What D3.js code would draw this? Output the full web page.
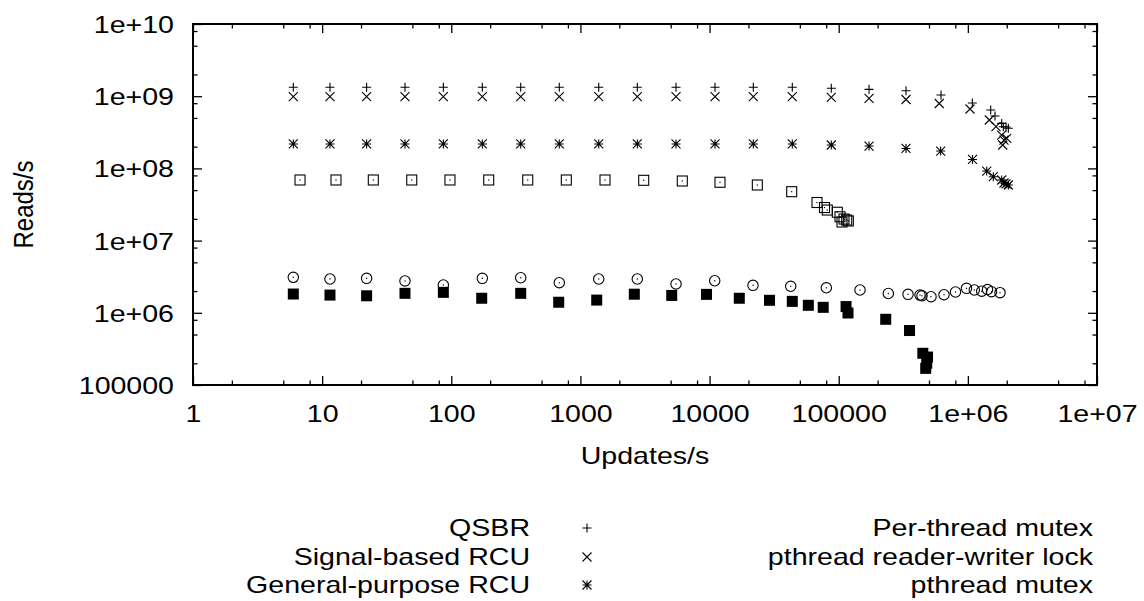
<!DOCTYPE html>
<html>
<head>
<meta charset="utf-8">
<script src="https://cdn.jsdelivr.net/npm/d3@7"></script>
<style>
  html, body { margin: 0; padding: 0; background: #fff; }
  svg { display: block; }
  text { font-family: "Liberation Sans", Arial, Helvetica, sans-serif; font-size: 24px; fill: #000; }
</style>
</head>
<body>
<svg id="chart" width="1144" height="601"></svg>
<script>
// ---------- data ----------
const xTickValues = [1, 10, 100, 1e3, 1e4, 1e5, 1e6, 1e7];
const xTickLabels = ["1", "10", "100", "1000", "10000", "100000", "1e+06", "1e+07"];
const yTickValues = [1e5, 1e6, 1e7, 1e8, 1e9, 1e10];
const yTickLabels = ["100000", "1e+06", "1e+07", "1e+08", "1e+09", "1e+10"];
const minorFactors = [2, 5, 8];

const seriesNames = ["QSBR", "Signal-based RCU", "General-purpose RCU",
                     "Per-thread mutex", "pthread reader-writer lock", "pthread mutex"];

const qsbrUpdates = [5.98, 11.5, 22.1, 43.8, 86.8, 173.9, 344.8, 686, 1386, 2757, 5498, 11020, 21810, 43710,
                     87600, 171700, 331900, 619700, 1083000, 1503000, 1623000, 1829000, 1882000, 1975000, 2058000];
const qsbrReads = [1.33e9, 1.33e9, 1.33e9, 1.33e9, 1.33e9, 1.33e9, 1.33e9, 1.33e9, 1.33e9, 1.33e9, 1.33e9, 1.33e9, 1.33e9, 1.33e9,
                   1.29e9, 1.245e9, 1.19e9, 1.04e9, 8.05e8, 6.44e8, 5.32e8, 4.2e8, 3.78e8, 3.75e8, 3.59e8];

const signalUpdates = [5.98, 11.5, 22.1, 43.8, 86.8, 173.9, 344.8, 686, 1386, 2757, 5498, 11020, 21810, 43710,
                       87600, 171700, 331900, 600500, 1039000, 1466000, 1652000, 1829000, 1905000, 1862000, 2000000];
const signalReads = [9.84e8, 9.84e8, 9.84e8, 9.84e8, 9.84e8, 9.84e8, 9.84e8, 9.84e8, 9.84e8, 9.84e8, 9.84e8, 9.84e8, 9.84e8, 9.84e8,
                     9.66e8, 9.35e8, 9.0e8, 7.92e8, 6.65e8, 4.68e8, 3.78e8, 2.9e8, 2.47e8, 2.11e8, 2.61e8];

const gpUpdates = [5.98, 11.5, 22.1, 43.8, 86.8, 173.9, 344.8, 686, 1386, 2757, 5498, 11020, 21810, 43710,
                   87600, 171700, 331900, 616000, 1086000, 1400000, 1574000, 1829000, 1905000, 2058000, 1975000];
const gpReads = [2.18e8, 2.18e8, 2.18e8, 2.18e8, 2.18e8, 2.18e8, 2.18e8, 2.18e8, 2.18e8, 2.18e8, 2.18e8, 2.18e8, 2.18e8, 2.18e8,
                 2.11e8, 2.04e8, 1.89e8, 1.74e8, 1.33e8, 9.2e7, 7.67e7, 6.91e7, 6.28e7, 5.89e7, 6.1e7];

const ptmUpdates = [6.74, 12.8, 24.9, 49.4, 97.7, 194.9, 390.7, 777.5, 1550, 3090, 6150, 12040, 23430, 43250,
                    67920, 77620, 81600, 97520, 102300, 106000, 109900, 115300, 118700];
const ptmReads = [6.91e7, 6.91e7, 6.91e7, 6.91e7, 6.91e7, 6.91e7, 6.91e7, 6.91e7, 6.91e7, 6.84e7, 6.69e7, 6.42e7, 5.89e7, 4.76e7,
                  3.37e7, 2.87e7, 2.65e7, 2.47e7, 2.14e7, 1.81e7, 1.99e7, 1.93e7, 1.87e7];

const rwUpdates = [5.98, 11.5, 22.1, 43.8, 86.8, 173.9, 344.8, 686, 1386, 2757, 5498, 10960, 21690, 42500,
                   80170, 146200, 242100, 344100, 426100, 441600, 518400, 653700, 802400, 976300, 1122000, 1280000, 1420000, 1525000, 1774000];
const rwReads = [3.10e6, 2.94e6, 3.00e6, 2.76e6, 2.43e6, 3.00e6, 3.06e6, 2.61e6, 2.94e6, 2.94e6, 2.51e6, 2.78e6, 2.40e6, 2.33e6,
                 2.22e6, 2.07e6, 1.85e6, 1.80e6, 1.76e6, 1.72e6, 1.67e6, 1.78e6, 1.94e6, 2.18e6, 2.07e6, 1.99e6, 2.10e6, 1.96e6, 1.90e6];

const mutexUpdates = [5.98, 11.5, 22.1, 43.8, 86.8, 172, 344.8, 678.8, 1337, 2614, 5092, 9470, 16990, 29120, 43710,
                      58170, 75850, 114000, 118000, 231200, 353400, 448000, 487100, 480200, 471700];
const mutexReads = [1.82e6, 1.76e6, 1.72e6, 1.86e6, 1.92e6, 1.59e6, 1.86e6, 1.40e6, 1.50e6, 1.81e6, 1.74e6, 1.80e6, 1.59e6, 1.49e6, 1.44e6,
                    1.27e6, 1.19e6, 1.22e6, 9.94e5, 8.13e5, 5.68e5, 2.75e5, 2.44e5, 2.0e5, 1.70e5];

// ---------- layout ----------
const W = 1144, H = 601;
const L = 193, R = 1097, T = 24, B = 385;
const SX = 1.19; // horizontal text stretch of the reference

const svg = d3.select("#chart");
const x = d3.scaleLog().domain([1, 1e7]).range([L, R]);
const y = d3.scaleLog().domain([1e5, 1e10]).range([B, T]);

const minorX = [], minorY = [];
for (let e = 0; e < 7; e++) minorFactors.forEach(f => minorX.push(f * Math.pow(10, e)));
for (let e = 5; e < 10; e++) minorFactors.forEach(f => minorY.push(f * Math.pow(10, e)));

function styleAxis(g) {
  g.select(".domain").remove();
  g.selectAll(".tick line").attr("stroke", "#000").attr("stroke-width", 1.3);
}

// major + minor ticks on all four sides (inward)
svg.append("g").attr("transform", `translate(0,${B})`)
  .call(d3.axisBottom(x).tickValues(minorX).tickFormat("").tickSize(-4.5)).call(styleAxis);
svg.append("g").attr("transform", `translate(0,${T})`)
  .call(d3.axisTop(x).tickValues(minorX).tickFormat("").tickSize(-4.5)).call(styleAxis);
svg.append("g").attr("transform", `translate(0,${T})`)
  .call(d3.axisTop(x).tickValues(xTickValues).tickFormat("").tickSize(-9)).call(styleAxis);
svg.append("g").attr("transform", `translate(${L},0)`)
  .call(d3.axisLeft(y).tickValues(minorY).tickFormat("").tickSize(-4.5)).call(styleAxis);
svg.append("g").attr("transform", `translate(${R},0)`)
  .call(d3.axisRight(y).tickValues(minorY).tickFormat("").tickSize(-4.5)).call(styleAxis);
svg.append("g").attr("transform", `translate(${R},0)`)
  .call(d3.axisRight(y).tickValues(yTickValues).tickFormat("").tickSize(-9)).call(styleAxis);

// labelled axes
const xAxisG = svg.append("g").attr("transform", `translate(0,${B})`)
  .call(d3.axisBottom(x).tickValues(xTickValues).tickFormat((d, i) => xTickLabels[i]).tickSize(-9).tickPadding(20))
  .call(styleAxis);
xAxisG.selectAll(".tick text")
  .attr("font-family", null).attr("font-size", null)
  .attr("dy", "0.71em")
  .attr("transform", `scale(${SX},1)`);

const yAxisG = svg.append("g").attr("transform", `translate(${L},0)`)
  .call(d3.axisLeft(y).tickValues(yTickValues).tickFormat((d, i) => yTickLabels[i]).tickSize(-9).tickPadding(19))
  .call(styleAxis);
yAxisG.selectAll(".tick text")
  .attr("font-family", null).attr("font-size", null)
  .attr("x", 0).attr("dy", "0.35em")
  .attr("transform", `translate(-19,0) scale(${SX},1)`);

// frame
svg.append("rect").attr("x", L).attr("y", T).attr("width", R - L).attr("height", B - T)
  .attr("fill", "none").attr("stroke", "#000").attr("stroke-width", 2);

// axis titles
svg.append("text").attr("text-anchor", "middle")
  .attr("transform", `translate(${(L + R) / 2},464) scale(${SX},1)`).text("Updates/s");
svg.append("text").attr("text-anchor", "middle")
  .attr("transform", `translate(33,${(T + B) / 2}) scale(${SX},1) rotate(-90)`).text("Reads/s");

// ---------- markers ----------
const S = 4.5;
const markerPaths = {
  plus: `M${-S},0H${S}M0,${-S}V${S}`,
  cross: `M${-S},${-S}L${S},${S}M${-S},${S}L${S},${-S}`,
  star: `M${-S},0H${S}M0,${-S}V${S}M${-S},${-S}L${S},${S}M${-S},${S}L${S},${-S}`
};

function drawMarker(g, type) {
  if (type in markerPaths) {
    g.append("path").attr("d", markerPaths[type]).attr("fill", "none")
      .attr("stroke", "#000").attr("stroke-width", 1.1);
  } else if (type === "square") {
    g.append("rect").attr("x", -5).attr("y", -5).attr("width", 10).attr("height", 10)
      .attr("fill", "none").attr("stroke", "#000").attr("stroke-width", 1.1);
    g.append("rect").attr("x", -0.6).attr("y", -0.6).attr("width", 1.2).attr("height", 1.2).attr("fill", "#000");
  } else if (type === "circle") {
    g.append("circle").attr("r", 5.2).attr("fill", "none").attr("stroke", "#000").attr("stroke-width", 1.1);
    g.append("rect").attr("x", -0.6).attr("y", -0.6).attr("width", 1.2).attr("height", 1.2).attr("fill", "#000");
  } else if (type === "filled") {
    g.append("rect").attr("x", -5.5).attr("y", -5.5).attr("width", 11).attr("height", 11).attr("fill", "#000");
  }
}

const series = [
  { name: seriesNames[0], xs: qsbrUpdates, ys: qsbrReads, type: "plus" },
  { name: seriesNames[1], xs: signalUpdates, ys: signalReads, type: "cross" },
  { name: seriesNames[2], xs: gpUpdates, ys: gpReads, type: "star" },
  { name: seriesNames[3], xs: ptmUpdates, ys: ptmReads, type: "square" },
  { name: seriesNames[4], xs: rwUpdates, ys: rwReads, type: "circle" },
  { name: seriesNames[5], xs: mutexUpdates, ys: mutexReads, type: "filled" }
];

const plot = svg.append("g");
series.forEach(s => {
  const pts = s.xs.map((v, i) => [v, s.ys[i]]);
  plot.append("g").selectAll("g").data(pts).join("g")
    .attr("transform", d => `translate(${x(d[0])},${y(d[1])})`)
    .each(function () { drawMarker(d3.select(this), s.type); });
});

// ---------- legend ----------
const legendRows = [536, 565, 593];
const legendCols = [{ textX: 530, markX: 587 }, { textX: 1093, markX: 1150 }];
series.forEach((s, i) => {
  const col = legendCols[Math.floor(i / 3)];
  const rowY = legendRows[i % 3];
  svg.append("text").attr("text-anchor", "end")
    .attr("transform", `translate(${col.textX},${rowY}) scale(${SX},1)`).text(s.name);
  const g = svg.append("g").attr("transform", `translate(${col.markX},${rowY - 8})`);
  drawMarker(g, s.type);
});
</script>
</body>
</html>
